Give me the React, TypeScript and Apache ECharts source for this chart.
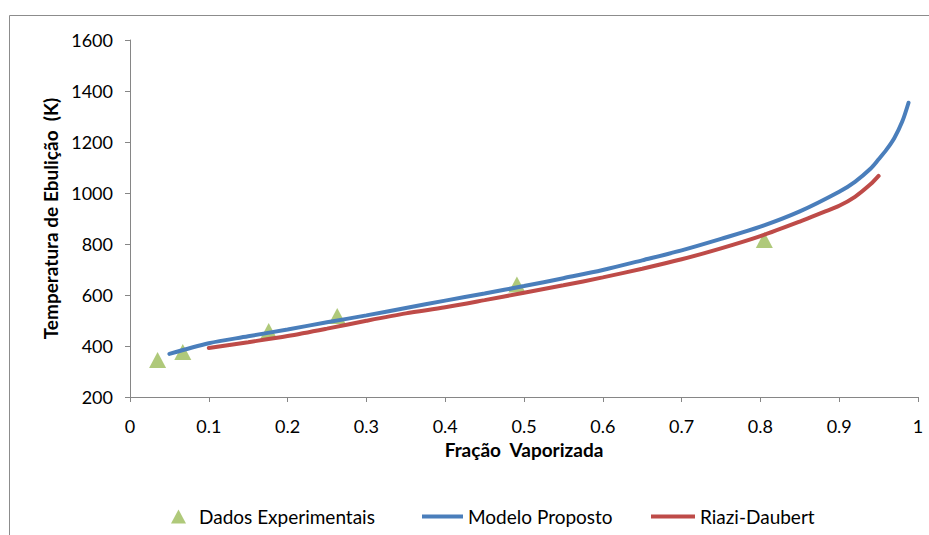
import React, { useEffect, useRef } from "react";
import * as echarts from "echarts";

const expX = [0.035, 0.067, 0.176, 0.263, 0.491, 0.805];
const expY = [345, 376, 459, 518, 641, 816];

const modelX = [0.05, 0.1, 0.15, 0.2, 0.25, 0.3, 0.35, 0.4, 0.45, 0.5, 0.55, 0.6, 0.65, 0.7, 0.75, 0.8, 0.85, 0.9, 0.92, 0.94, 0.95, 0.96, 0.97, 0.98, 0.988];
const modelY = [369, 411, 438, 465, 493, 520, 549, 578, 606, 635, 666, 698, 736, 775, 820, 868, 928, 1005, 1044, 1096, 1132, 1170, 1216, 1280, 1354];

const riaziX = [0.1, 0.15, 0.2, 0.25, 0.3, 0.35, 0.4, 0.45, 0.5, 0.55, 0.6, 0.65, 0.7, 0.75, 0.8, 0.85, 0.88, 0.9, 0.92, 0.94, 0.95];
const riaziY = [392, 415, 439, 468, 499, 528, 552, 580, 609, 638, 669, 703, 740, 783, 831, 888, 925, 950, 985, 1035, 1067];

const names = ["Dados Experimentais", "Modelo Proposto", "Riazi-Daubert"];
const FONT = "Lato, 'Noto Sans', sans-serif";

const zip = (xs: number[], ys: number[]) => xs.map((x, i) => [x, ys[i]]);

export default function App() {
  const ref = useRef<HTMLDivElement>(null);
  useEffect(() => {
    if (!ref.current) return;
    const chart = echarts.init(ref.current, undefined, { renderer: "svg" });
    const legendText = { fontFamily: FONT, fontSize: 19, color: "#000" };
    chart.setOption({
      animation: false,
      backgroundColor: "#fff",
      textStyle: { fontFamily: FONT },
      grid: { left: 130, top: 40, right: 11, bottom: 138, containLabel: false },
      graphic: [
        {
          type: "rect",
          shape: { x: 9.5, y: 15.5, width: 1000, height: 1000 },
          style: { fill: "none", stroke: "#8c8c8c", lineWidth: 1 },
          silent: true,
        },
      ],
      legend: [
        {
          data: [{ name: names[0], icon: "triangle" }],
          left: 166, top: 502, itemWidth: 15, itemHeight: 14,
          textStyle: { ...legendText, padding: [0, 0, 0, 8] },
        },
        {
          data: [{ name: names[1], icon: "rect" }],
          left: 417, top: 502, itemWidth: 41, itemHeight: 4,
          textStyle: legendText,
        },
        {
          data: [{ name: names[2], icon: "rect" }],
          left: 646, top: 502, itemWidth: 44, itemHeight: 4,
          textStyle: legendText,
        },
      ],
      xAxis: {
        type: "value",
        min: 0,
        max: 1,
        interval: 0.1,
        name: "Fração  Vaporizada",
        nameLocation: "middle",
        nameGap: 39,
        nameTextStyle: { fontFamily: FONT, fontSize: 19, fontWeight: "bold", color: "#000" },
        axisLine: { show: true, onZero: false, lineStyle: { color: "#868686", width: 1 } },
        axisTick: { show: true, inside: false, length: 5, lineStyle: { color: "#868686" } },
        axisLabel: {
          margin: 20,
          fontFamily: FONT,
          fontSize: 18,
          color: "#000",
          formatter: (v: number) => String(+v.toFixed(1)),
        },
        splitLine: { show: false },
      },
      yAxis: {
        type: "value",
        min: 200,
        max: 1600,
        interval: 200,
        name: "Temperatura de Ebulição  (K)",
        nameLocation: "middle",
        nameGap: 69,
        nameTextStyle: { fontFamily: FONT, fontSize: 19, fontWeight: "bold", color: "#000" },
        axisLine: { show: true, lineStyle: { color: "#868686", width: 1 } },
        axisTick: { show: true, inside: false, length: 5, lineStyle: { color: "#868686" } },
        axisLabel: {
          margin: 17,
          fontFamily: FONT,
          fontSize: 18,
          color: "#000",
          formatter: (v: number) => String(v),
        },
        splitLine: { show: false },
      },
      series: [
        {
          name: names[0],
          type: "scatter",
          data: zip(expX, expY),
          symbol: "triangle",
          symbolSize: [17, 16],
          itemStyle: { color: "#9BBB59" },
          z: 1,
        },
        {
          name: names[1],
          type: "line",
          data: zip(modelX, modelY),
          showSymbol: false,
          smooth: 0.3,
          lineStyle: { color: "#4A7EBB", width: 4, cap: "round" },
          itemStyle: { color: "#4A7EBB" },
          z: 3,
        },
        {
          name: names[2],
          type: "line",
          data: zip(riaziX, riaziY),
          showSymbol: false,
          smooth: 0.3,
          lineStyle: { color: "#BE4B48", width: 4, cap: "round" },
          itemStyle: { color: "#BE4B48" },
          z: 2,
        },
      ],
    });
    return () => chart.dispose();
  }, []);
  return <div ref={ref} style={{ width: 929, height: 535, position: "absolute", left: 0, top: 0 }} />;
}
